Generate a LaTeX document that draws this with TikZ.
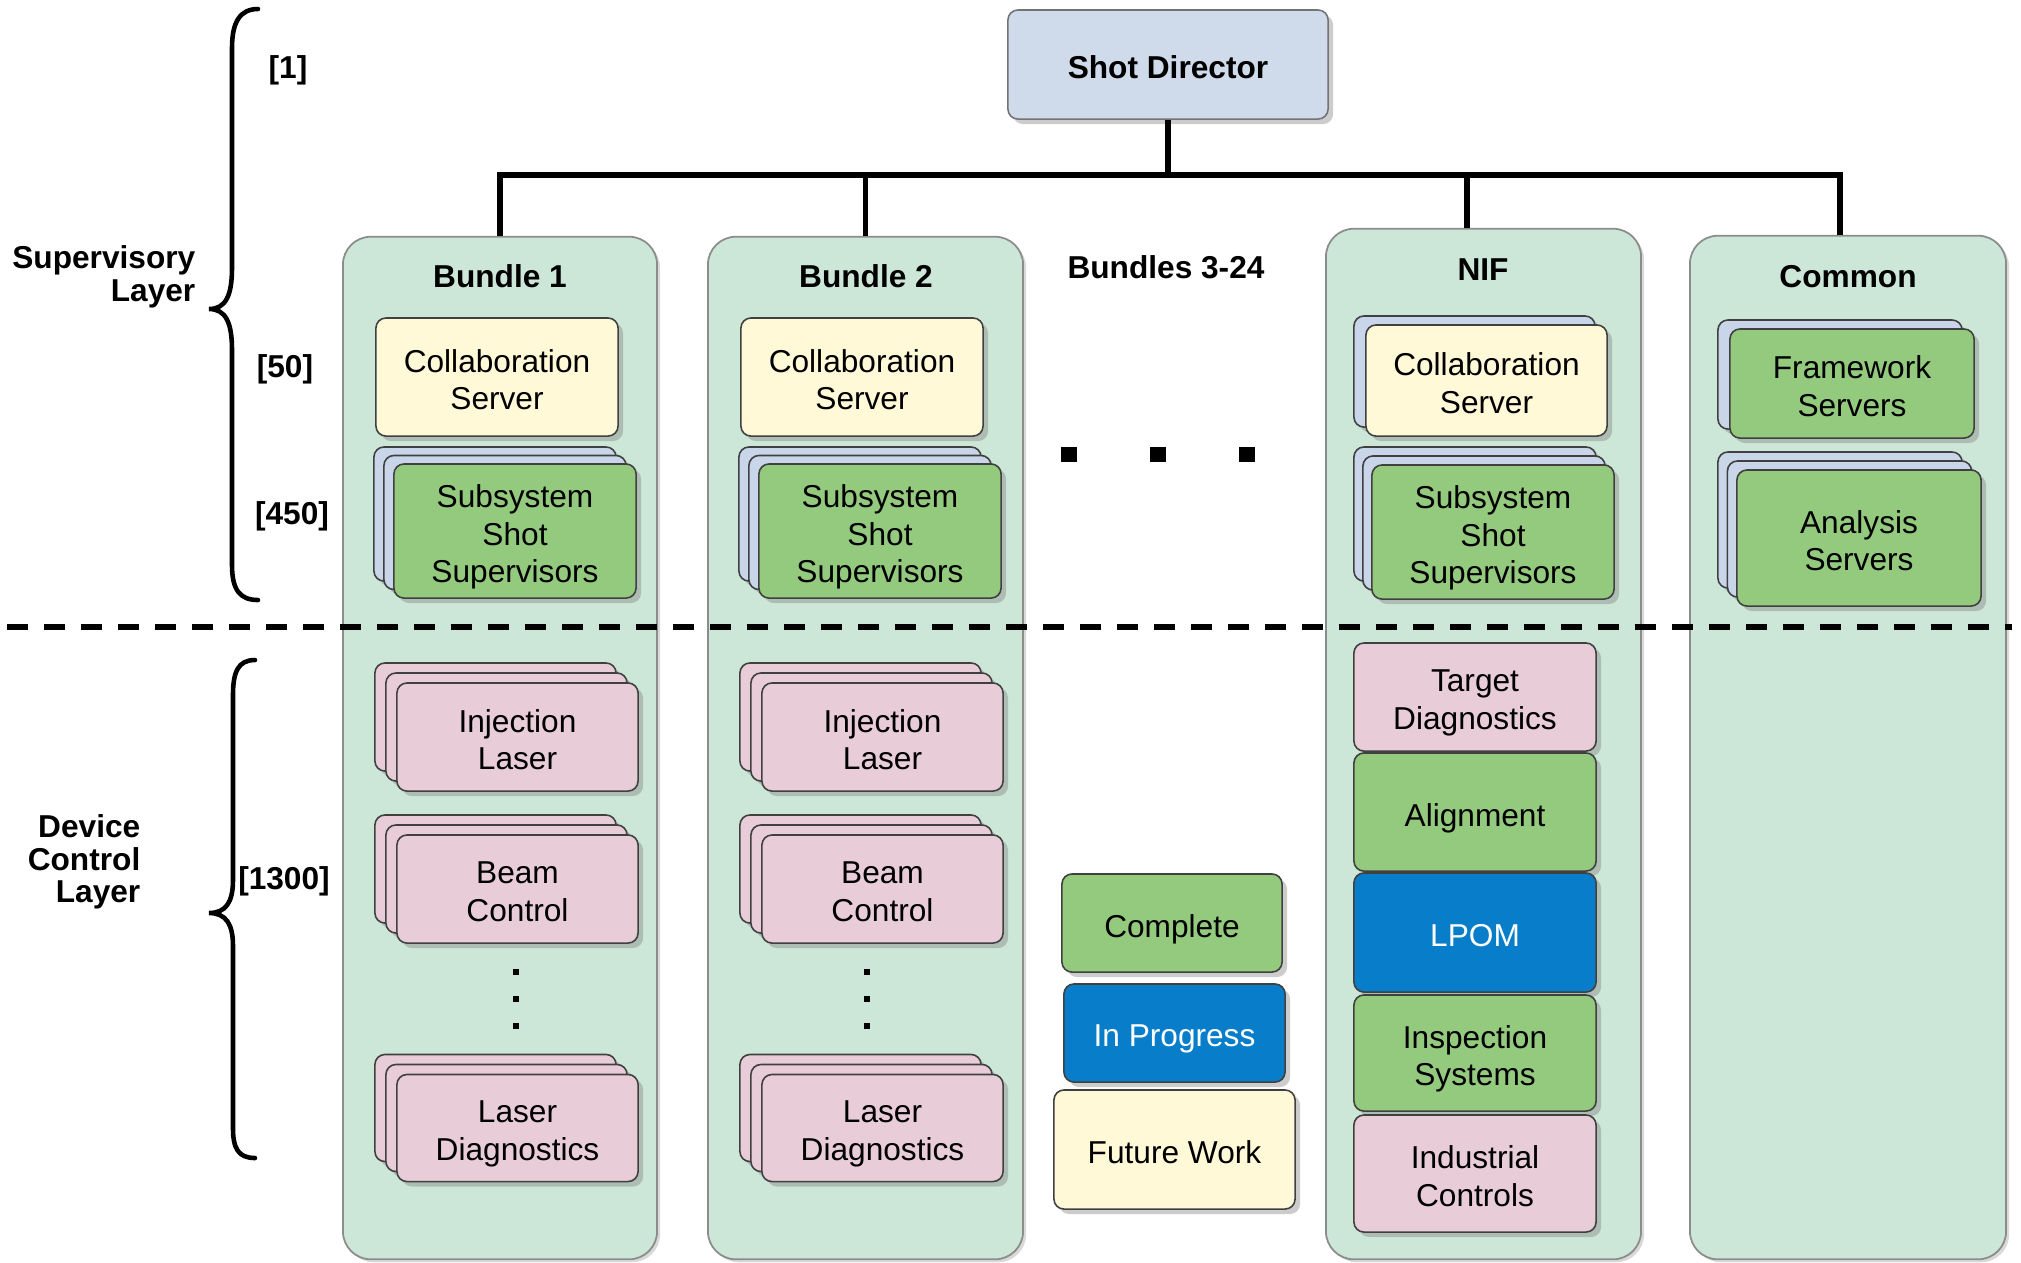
\documentclass[tikz,border=0pt]{standalone}
\usepackage{fontspec}
\setmainfont{Liberation Sans}
\usetikzlibrary{shadows}
\definecolor{colfill}{RGB}{204,231,216}
\definecolor{yellowbox}{RGB}{255,249,216}
\definecolor{greenbox}{RGB}{148,202,126}
\definecolor{greyblue}{RGB}{201,213,233}
\definecolor{pinkbox}{RGB}{232,205,217}
\definecolor{bluebox}{RGB}{8,125,201}
\definecolor{sdfill}{RGB}{207,218,234}
\newcommand\txtsize{\fontsize{9}{10.65}\selectfont}
\newcommand\lblsize{\fontsize{9}{9.3}\selectfont}
\newcommand\dn[1]{\raisebox{-0.75pt}[\height][\depth]{#1}}
\begin{document}
\begin{tikzpicture}[x=0.01cm,y=-0.01cm,
  colbox/.style={draw=black!45, line width=0.5pt, fill=colfill, rounded corners=0.28cm, inner sep=0pt,
    drop shadow={shadow xshift=0.03cm, shadow yshift=-0.03cm, opacity=0.3}},
  box/.style={draw=black!75, line width=0.45pt, rounded corners=0.1cm, inner sep=0pt, align=center, font=\txtsize,
    text depth=-1pt,
    drop shadow={shadow xshift=0.05cm, shadow yshift=-0.05cm, opacity=0.4}},
  title/.style={font=\bfseries\txtsize, inner sep=0pt},
  sidelabel/.style={font=\bfseries\lblsize, inner sep=0pt, anchor=east, align=right},
  wire/.style={line width=1.6pt},
  divider/.style={line width=1.7pt, dash pattern=on 5.97pt off 4.55pt},
  bracepath/.style={line width=1.3pt, line cap=round},
  sqdot/.style={fill=black, inner sep=0pt, minimum size=0.06cm},
  bigdot/.style={fill=black, inner sep=0pt, minimum width=0.16cm, minimum height=0.15cm},
]
\useasboundingbox (0,0) rectangle (2021,1262);

% columns
\node[colbox, minimum width=3.14cm, minimum height=10.22cm] (b1) at (500,748) {};
\node[colbox, minimum width=3.15cm, minimum height=10.22cm] (b2) at (865.5,748) {};
\node[colbox, minimum width=3.15cm, minimum height=10.30cm] (nif) at (1483.5,744) {};
\node[colbox, minimum width=3.16cm, minimum height=10.23cm] (com) at (1848,747.5) {};

% divider
\coordinate (divL) at (7,627);
\coordinate (divR) at (2012,627);
\draw[divider] (divL) -- (divR);

% shot director and tree
\node[box, fill=sdfill, draw=black!55, minimum width=3.2cm, minimum height=1.09cm, font=\bfseries\txtsize] (sd) at (1168,64.5) {\dn{Shot Director}};
\coordinate (bus) at (1168,175);
\draw[wire] (sd.south) -- (bus);
\draw[wire] (b1.north) |- (bus);
\draw[wire] (b2.north) -- (b2.north |- bus);
\draw[wire] ([xshift=-0.165cm]nif.north) |- (bus);
\draw[wire] ([xshift=-0.08cm]com.north) |- (bus);

% titles
\node[title] (t1) at (500,276) {Bundle 1};
\node[title] (t2) at (866,276) {Bundle 2};
\node[title] (t3) at (1166,267) {Bundles 3-24};
\node[title] (t4) at (1483,270) {NIF};
\node[title] (t5) at (1848,277) {Common};

% bundle contents
\foreach \dx/\n/\dotx in {0/1/516, 365/2/867} {
  \node[box, fill=yellowbox, minimum width=2.42cm, minimum height=1.18cm] (b\n cs) at ({497+\dx},377) {\dn{Collaboration}\\\dn{Server}};
  \node[box, fill=greyblue, minimum width=2.42cm, minimum height=1.34cm] (b\n ssA) at ({495+\dx},514) {};
  \node[box, fill=greyblue, minimum width=2.42cm, minimum height=1.34cm] (b\n ssB) at ({505+\dx},522.5) {};
  \node[box, fill=greenbox, minimum width=2.42cm, minimum height=1.34cm] (b\n ss) at ({515+\dx},531) {\dn{Subsystem}\\\dn{Shot}\\\dn{Supervisors}};
  \node[box, fill=pinkbox, minimum width=2.41cm, minimum height=1.08cm] (b\n ilA) at ({495.5+\dx},717) {};
  \node[box, fill=pinkbox, minimum width=2.41cm, minimum height=1.08cm] (b\n ilB) at ({506.5+\dx},727) {};
  \node[box, fill=pinkbox, minimum width=2.41cm, minimum height=1.08cm] (b\n il) at ({517.5+\dx},737) {\dn{Injection}\\\dn{Laser}};
  \node[box, fill=pinkbox, minimum width=2.41cm, minimum height=1.08cm] (b\n bcA) at ({495.5+\dx},869) {};
  \node[box, fill=pinkbox, minimum width=2.41cm, minimum height=1.08cm] (b\n bcB) at ({506.5+\dx},879) {};
  \node[box, fill=pinkbox, minimum width=2.41cm, minimum height=1.08cm] (b\n bc) at ({517.5+\dx},889) {\dn{Beam}\\\dn{Control}};
  \node[box, fill=pinkbox, minimum width=2.41cm, minimum height=1.07cm] (b\n ldA) at ({495.5+\dx},1108) {};
  \node[box, fill=pinkbox, minimum width=2.41cm, minimum height=1.07cm] (b\n ldB) at ({506.5+\dx},1118) {};
  \node[box, fill=pinkbox, minimum width=2.41cm, minimum height=1.07cm] (b\n ld) at ({517.5+\dx},1128) {\dn{Laser}\\\dn{Diagnostics}};
  \node[sqdot] (b\n d1) at (\dotx,972) {};
  \node[sqdot] (b\n d2) at (\dotx,999) {};
  \node[sqdot] (b\n d3) at (\dotx,1026) {};
}

% bundles 3-24 dots
\node[bigdot] (h1) at (1069,454) {};
\node[bigdot] (h2) at (1158,454) {};
\node[bigdot] (h3) at (1247,454) {};

% NIF
\node[box, fill=greyblue, minimum width=2.41cm, minimum height=1.11cm] (ncsA) at (1474.5,371.5) {};
\node[box, fill=yellowbox, minimum width=2.41cm, minimum height=1.11cm] (ncs) at (1486.5,380.5) {\dn{Collaboration}\\\dn{Server}};
\node[box, fill=greyblue, minimum width=2.42cm, minimum height=1.34cm] (nssA) at (1475,514) {};
\node[box, fill=greyblue, minimum width=2.42cm, minimum height=1.34cm] (nssB) at (1484,523) {};
\node[box, fill=greenbox, minimum width=2.42cm, minimum height=1.34cm] (nss) at (1493,532) {\dn{Subsystem}\\\dn{Shot}\\\dn{Supervisors}};
\node[box, fill=pinkbox, minimum width=2.42cm, minimum height=1.08cm] (ntd) at (1475,697) {\dn{Target}\\\dn{Diagnostics}};
\node[box, fill=greenbox, minimum width=2.42cm, minimum height=1.18cm] (nal) at (1475,812) {\dn{Alignment}};
\node[box, fill=bluebox, text=white, minimum width=2.42cm, minimum height=1.19cm] (nlp) at (1475,932.5) {\dn{LPOM}};
\node[box, fill=greenbox, minimum width=2.42cm, minimum height=1.16cm] (nis) at (1475,1053) {\dn{Inspection}\\\dn{Systems}};
\node[box, fill=pinkbox, minimum width=2.42cm, minimum height=1.17cm] (nic) at (1475,1173.5) {\dn{Industrial}\\\dn{Controls}};

% Common
\node[box, fill=greyblue, minimum width=2.44cm, minimum height=1.09cm] (cfsA) at (1840,374.5) {};
\node[box, fill=greenbox, minimum width=2.44cm, minimum height=1.09cm] (cfs) at (1852,383.5) {\dn{Framework}\\\dn{Servers}};
\node[box, fill=greyblue, minimum width=2.44cm, minimum height=1.36cm] (casA) at (1840,520) {};
\node[box, fill=greyblue, minimum width=2.44cm, minimum height=1.36cm] (casB) at (1849.5,529) {};
\node[box, fill=greenbox, minimum width=2.44cm, minimum height=1.36cm] (cas) at (1859,538) {\dn{Analysis}\\\dn{Servers}};

% legend
\node[box, fill=greenbox, minimum width=2.20cm, minimum height=0.98cm] (lc) at (1172,923) {\dn{Complete}};
\node[box, fill=bluebox, text=white, minimum width=2.21cm, minimum height=0.98cm] (lp) at (1174.5,1033) {\dn{In Progress}};
\node[box, fill=yellowbox, minimum width=2.41cm, minimum height=1.19cm] (lf) at (1174.5,1149.5) {\dn{Future Work}};

% left labels
\node[sidelabel] (sup) at (196,277) {Supervisory\\Layer};
\node[sidelabel] (dev) at (141,862) {Device\\Control\\Layer};
\node[title] (n1) at (288,70) {[1]};
\node[title] (n50) at (285,369) {[50]};
\node[title] (n450) at (292,516) {[450]};
\node[title] (n1300) at (284,881) {[1300]};

% braces
\draw[bracepath] (258,9) .. controls (240,9) and (232,22) .. (232,48) -- (232,268)
  .. controls (232,295) and (226,309) .. (209,309)
  .. controls (226,309) and (232,323) .. (232,350) -- (232,565)
  .. controls (232,590) and (240,600) .. (258,600);
\draw[bracepath] (255,660) .. controls (238,660) and (233,672) .. (233,695) -- (233,880)
  .. controls (233,902) and (226,913) .. (209,913)
  .. controls (226,913) and (233,924) .. (233,946) -- (233,1128)
  .. controls (233,1148) and (238,1158) .. (255,1158);
\end{tikzpicture}
\end{document}
